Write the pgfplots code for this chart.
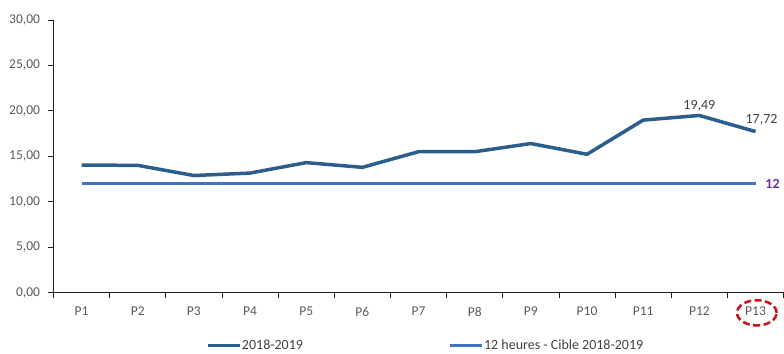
\documentclass[border=0pt]{standalone}
\usepackage{pgfplots}
\pgfplotsset{compat=1.18}
\usepackage{fontspec}
\setmainfont{Carlito}

\definecolor{serieA}{RGB}{44,94,140}
\definecolor{cible}{RGB}{68,114,196}
\definecolor{txtgray}{RGB}{89,89,89}
\definecolor{lblgray}{RGB}{64,64,64}
\definecolor{violet12}{RGB}{112,48,160}
\definecolor{rouge}{RGB}{204,16,24}
\definecolor{axisgray}{RGB}{30,30,30}

\begin{document}
\begin{tikzpicture}
\begin{axis}[
    scale only axis,
    width=730.5pt, height=272.7pt,
    clip=false,
    xmin=0.5, xmax=13.5,
    ymin=0, ymax=30,
    axis x line=bottom, axis y line=left,
    axis line style={-, draw=axisgray, line width=0.8pt},
    tick align=outside,
    major tick length=5pt,
    minor tick length=5pt,
    tick style={draw=axisgray, line width=0.8pt},
    xtick={1,2,3,4,5,6,7,8,9,10,11,12,13},
    xticklabels={P1,P2,P3,P4,P5,P6,P7,P8,P9,P10,P11,P12,P13},
    minor xtick={0.5,1.5,...,13.5},
    major x tick style={draw=none},
    xticklabel style={yshift=-6pt},
    ytick={0,5,10,15,20,25,30},
    yticklabel style={xshift=-5pt},
    tick label style={font=\fontsize{13.5}{16}\selectfont, text=txtgray},
    /pgf/number format/.cd, fixed, fixed zerofill, precision=2, use comma,
        assume math mode=true,
    /pgfplots/.cd,
    legend columns=2,
    legend style={at={(0.509,-0.1936)}, anchor=center, draw=none, fill=none,
        font=\fontsize{14}{16}\selectfont, text=lblgray,
        nodes={inner xsep=0.6pt, inner ysep=1pt},
        /tikz/every even column/.append style={column sep=145pt}},
    legend image code/.code={\draw[#1, line width=3pt] (0pt,0pt) -- (32pt,0pt);},
]
% measured hours per period
\addplot[serieA, line width=3.5pt, line join=round] coordinates {
    (1,14.03) (2,14.00) (3,12.88) (4,13.15) (5,14.30) (6,13.78) (7,15.50)
    (8,15.50) (9,16.40) (10,15.22) (11,18.98) (12,19.49) (13,17.72)
};
\addlegendentry{2018-2019}
% target
\addplot[cible, line width=3pt] coordinates {(1,12) (13,12)};
\addlegendentry{12 heures - Cible 2018-2019}

\node[text=lblgray, font=\fontsize{14}{16}\selectfont, yshift=10pt] at (axis cs:12,19.49) {19,49};
\node[text=lblgray, font=\fontsize{14}{16}\selectfont, xshift=6pt, yshift=11.5pt] at (axis cs:13,17.72) {17,72};
\node[text=violet12, font=\bfseries\fontsize{14}{16}\selectfont, xshift=17pt] at (axis cs:13,12) {12};

% highlight on the last period
\draw[rouge, line width=2.5pt, dash pattern=on 7pt off 3.5pt]
    ([xshift=1.3pt, yshift=-20.3pt]axis cs:13,0) ellipse [x radius=19.8pt, y radius=12.6pt];

% picture frame
\path (rel axis cs:0,0) ++(-53.5pt,-59.3pt);
\path (rel axis cs:1,1) ++(0pt,20pt);
\end{axis}
\end{tikzpicture}
\end{document}
